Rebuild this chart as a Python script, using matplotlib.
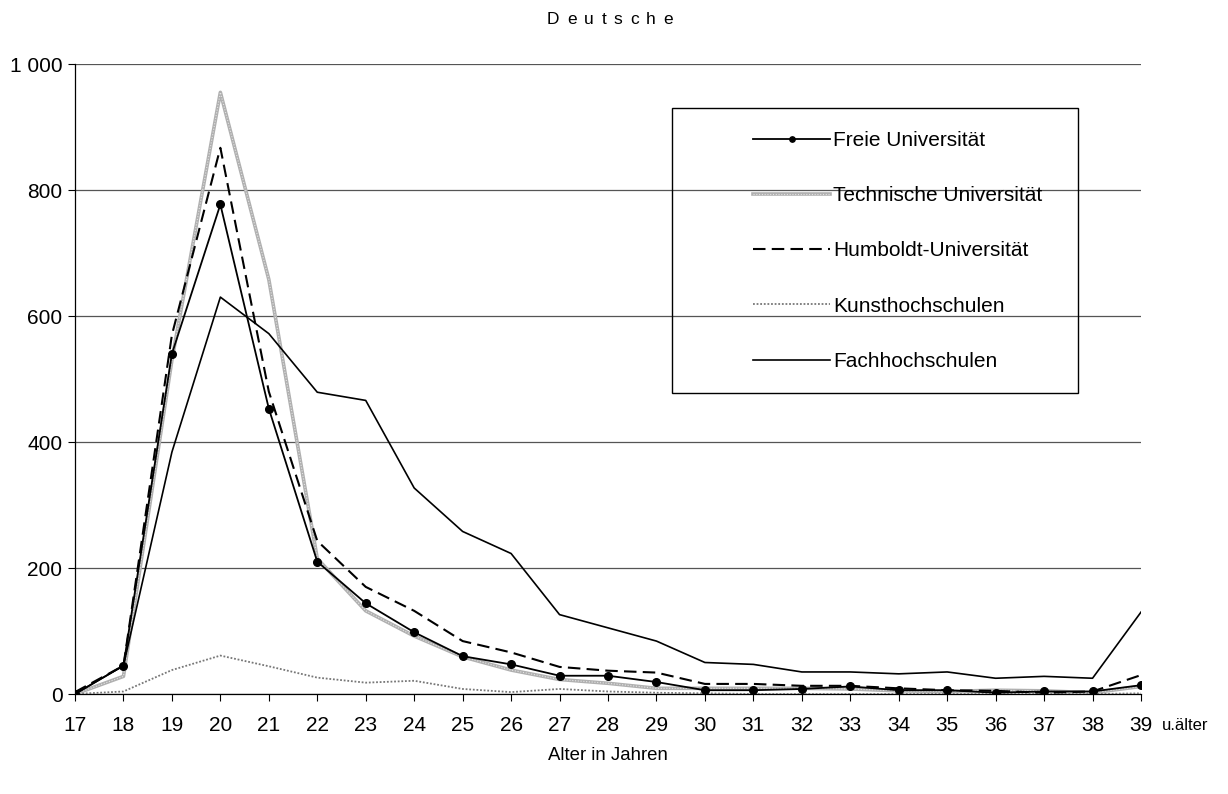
import matplotlib
matplotlib.use("Agg")
import matplotlib.pyplot as plt
from matplotlib.patches import Rectangle

# Studierende (Deutsche) nach Alter und Hochschulart
ages = list(range(17, 40))
freie_uni = [0, 45, 540, 777, 453, 210, 144, 98, 60, 47, 29, 29, 19, 6, 6, 8, 12, 6, 6, 2, 4, 4, 14]
techn_uni = [0, 28, 530, 955, 658, 215, 132, 92, 59, 38, 23, 17, 9, 9, 9, 9, 8, 5, 4, 6, 5, 2, 12]
humboldt = [3, 45, 570, 867, 480, 243, 170, 132, 84, 66, 43, 37, 34, 16, 16, 13, 13, 9, 6, 5, 2, 4, 30]
kunst = [0, 4, 38, 61, 44, 26, 18, 21, 8, 3, 8, 4, 2, 1, 0, 0, 0, 0, 0, 0, 0, 0, 1]
fach = [0, 45, 384, 630, 572, 479, 466, 327, 258, 223, 126, 105, 84, 50, 47, 35, 35, 32, 35, 25, 28, 25, 130]

yticks = [0, 200, 400, 600, 800, 1000]
ytick_labels = ["0", "200", "400", "600", "800", "1 000"]

plt.rcParams["font.family"] = ["Liberation Sans", "DejaVu Sans"]

W, H = 1228, 794
fig = plt.figure(figsize=(W / 100, H / 100), dpi=100)
ax = fig.add_axes([75 / W, 1 - 694 / H, (1141 - 75) / W, (694 - 64) / H])

# TU: graue, leicht gemusterte Linie
tu_a, = ax.plot(ages, techn_uni, color="#b0b0b0", lw=2.6, zorder=3)
tu_b, = ax.plot(ages, techn_uni, color="#e4e4e4", lw=0.8, linestyle=(0, (1, 1.5)), zorder=3)
ku, = ax.plot(ages, kunst, color="#777777", lw=1.3, linestyle=(0, (1, 1)), zorder=3)
fh, = ax.plot(ages, fach, color="black", lw=1.2, zorder=4)
hu, = ax.plot(ages, humboldt, color="black", lw=1.5, linestyle=(0, (6, 3)), zorder=5)
fu, = ax.plot(ages, freie_uni, color="black", lw=1.3, marker="o", markersize=5.5, zorder=6)

ax.set_xlim(17, 39)
ax.set_ylim(0, 1000)
ax.set_xticks(ages)
ax.set_xticklabels([str(a) for a in ages])
ax.set_yticks(yticks)
ax.set_yticklabels(ytick_labels)
ax.tick_params(axis="both", labelsize=15, length=5, width=0.8, direction="out", color="black")
ax.tick_params(axis="x", pad=11)
ax.tick_params(axis="y", pad=4)

ax.yaxis.grid(True, color="#555555", lw=0.9)
ax.set_axisbelow(True)
for s in ["top", "right"]:
    ax.spines[s].set_visible(False)
ax.spines["left"].set_linewidth(0.9)
ax.spines["bottom"].set_linewidth(0.9)

# Legende mit eigenem Rahmen
fig.patches.append(Rectangle((672 / W, 1 - 393 / H), (1078 - 672) / W, (393 - 108) / H,
                             transform=fig.transFigure, fill=False, edgecolor="black", lw=1))
fig.legend([fu, (tu_a, tu_b), hu, ku, fh],
           ["Freie Universität", "Technische Universität", "Humboldt-Universität",
            "Kunsthochschulen", "Fachhochschulen"],
           loc="upper left", bbox_to_anchor=(753 / W, 1 - 131 / H), frameon=False, fontsize=15,
           handlelength=3.7, handletextpad=0.15, labelspacing=1.74, borderpad=0,
           borderaxespad=0, markerscale=0.7)

fig.text(1162 / W, 1 - 725 / H, "u.älter", ha="left", va="center", fontsize=12)
fig.text(608 / W, 1 - 755 / H, "Alter in Jahren", ha="center", va="center", fontsize=13.4)

# Titel mit gesperrter Schrift
title = "Deutsche"
gap = 7.5
renderer = fig.canvas.get_renderer()
widths = []
for ch in title:
    t = fig.text(0, 0, ch, fontsize=12.5)
    widths.append(t.get_window_extent(renderer=renderer).width)
    t.remove()
total = sum(widths) + gap * (len(title) - 1)
x = 610 - total / 2
for ch, w in zip(title, widths):
    fig.text(x / W, 1 - 20 / H, ch, ha="left", va="center", fontsize=12.5)
    x += w + gap

fig.savefig("out.png", dpi=100)
